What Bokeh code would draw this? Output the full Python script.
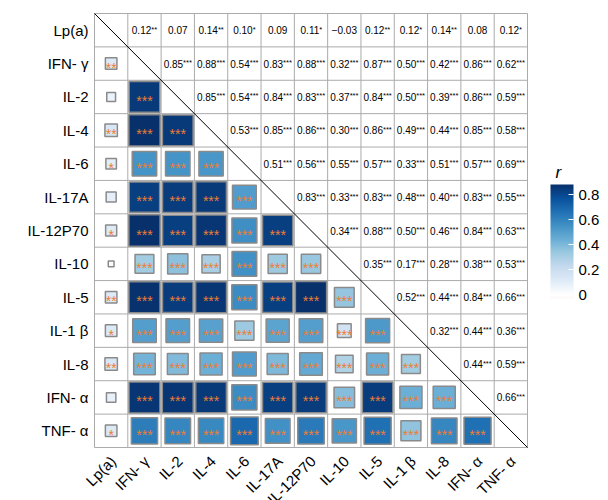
import math
import numpy as np
from bokeh.plotting import figure
from bokeh.models import (ColumnDataSource, LinearColorMapper, ColorBar, FixedTicker,
                          CustomJSTickFormatter, Range1d)
from bokeh.embed import file_html
from bokeh.resources import INLINE
from bokeh.core.properties import value

# ---------------- data ----------------
labels = ["Lp(a)", "IFN- γ", "IL-2", "IL-4", "IL-6", "IL-17A", "IL-12P70",
          "IL-10", "IL-5", "IL-1 β", "IL-8", "IFN- α", "TNF- α"]

# upper-triangle correlations, row by row (row i holds columns i+1 .. end)
r_lpa = [0.12, 0.07, 0.14, 0.10, 0.09, 0.11, -0.03, 0.12, 0.12, 0.14, 0.08, 0.12]
sig_lpa = ["**", "", "**", "*", "", "*", "", "**", "*", "**", "", "*"]
r_ifng = [0.85, 0.88, 0.54, 0.83, 0.88, 0.32, 0.87, 0.50, 0.42, 0.86, 0.62]
r_il2 = [0.85, 0.54, 0.84, 0.83, 0.37, 0.84, 0.50, 0.39, 0.86, 0.59]
r_il4 = [0.53, 0.85, 0.86, 0.30, 0.86, 0.49, 0.44, 0.85, 0.58]
r_il6 = [0.51, 0.56, 0.55, 0.57, 0.33, 0.51, 0.57, 0.69]
r_il17a = [0.83, 0.33, 0.83, 0.48, 0.40, 0.83, 0.55]
r_il12 = [0.34, 0.88, 0.50, 0.46, 0.84, 0.63]
r_il10 = [0.35, 0.17, 0.28, 0.38, 0.53]
r_il5 = [0.52, 0.44, 0.84, 0.66]
r_il1b = [0.32, 0.44, 0.36]
r_il8 = [0.44, 0.59]
r_ifna = [0.66]
sig_rest = "***"   # all cytokine-cytokine pairs p < 0.001

colorbar_ticks = [0, 0.2, 0.4, 0.6, 0.8]
r_low, r_high = -0.03, 0.88

rows_r = [r_lpa, r_ifng, r_il2, r_il4, r_il6, r_il17a, r_il12, r_il10, r_il5,
          r_il1b, r_il8, r_ifna]
rows_s = [sig_lpa] + [[sig_rest] * len(r) for r in rows_r[1:]]

n = len(labels)
R = np.zeros((n, n))
S = [[""] * n for _ in range(n)]
for i, (rr, ss) in enumerate(zip(rows_r, rows_s)):
    for k, (rv, sv) in enumerate(zip(rr, ss)):
        j = i + 1 + k
        R[i, j] = R[j, i] = rv
        S[i][j] = S[j][i] = sv

# ---------------- palette ----------------
blues = ["#ffffff", "#deebf7", "#c6dbef", "#9ecae1", "#6baed6", "#4292c6",
         "#2171b5", "#08519c", "#08306b"]
neg_end = "#e6550d"


def hex2rgb(h):
    return np.array([int(h[k:k + 2], 16) for k in (1, 3, 5)], dtype=float)


def rgb2hex(c):
    return "#%02x%02x%02x" % tuple(int(round(v)) for v in c)


def color_for(v):
    if v >= 0:
        pos = min(v / r_high, 1.0) * (len(blues) - 1)
        a = int(math.floor(pos))
        b = min(a + 1, len(blues) - 1)
        t = pos - a
        return rgb2hex(hex2rgb(blues[a]) * (1 - t) + hex2rgb(blues[b]) * t)
    t = min(-v / r_high, 1.0)
    return rgb2hex(hex2rgb("#ffffff") * (1 - t) + hex2rgb(neg_end) * t)


palette = [color_for(v) for v in np.linspace(r_low, r_high, 256)]
mapper = LinearColorMapper(palette=palette, low=r_low, high=r_high)

# ---------------- layout (pixels) ----------------
W_TOT, H_TOT = 608, 500
LEFT, TOP = 94, 13          # matrix top-left corner on the canvas
MAT_W, MAT_H = 433, 434     # matrix size
px_x, px_y = MAT_W / n, MAT_H / n
x_start, x_end = -LEFT / px_x, (W_TOT - LEFT) / px_x
y_start, y_end = -(H_TOT - TOP - MAT_H) / px_y, n + TOP / px_y

# ---------------- sources ----------------
FONT = "Liberation Sans"
num_fs, star_fs = 10, 7.5
W = {"0": 556, "1": 556, "2": 556, "3": 556, "4": 556, "5": 556, "6": 556,
     "7": 556, "8": 556, "9": 556, ".": 278, "−": 584, "*": 389}

up = dict(x=[], y=[], num=[], stars=[], off=[])
lo = dict(x=[], y=[], r=[], size=[], stars=[])
for i in range(n):
    for j in range(n):
        if i == j:
            continue
        cx, cy = j + 0.5, n - 0.5 - i
        rv, sv = R[i, j], S[i][j]
        if i < j:
            txt = ("%.2f" % rv).replace("-", "−")
            nw = sum(W[c] for c in txt) * num_fs / 1000.0
            sw = sum(W[c] for c in sv) * star_fs / 1000.0
            up["x"].append(cx); up["y"].append(cy)
            up["num"].append(txt); up["stars"].append(sv)
            up["off"].append((nw - sw) / 2.0)
        else:
            lo["x"].append(cx); lo["y"].append(cy)
            lo["r"].append(rv); lo["size"].append(math.sqrt(abs(rv)))
            lo["stars"].append(sv)

src_up = ColumnDataSource(up)
src_lo = ColumnDataSource(lo)
src_xl = ColumnDataSource(dict(x=[k + 0.5 for k in range(n)], y=[0] * n, text=labels))
src_yl = ColumnDataSource(dict(x=[0] * n, y=[n - 0.5 - k for k in range(n)], text=labels))

# ---------------- figure ----------------
p = figure(width=W_TOT, height=H_TOT, output_backend="svg", toolbar_location=None,
           x_range=Range1d(x_start, x_end), y_range=Range1d(y_start, y_end),
           x_axis_location=None, y_axis_location=None,
           min_border_left=0, min_border_right=0, min_border_top=0,
           min_border_bottom=0)
p.background_fill_color = "white"
p.border_fill_color = "white"
p.outline_line_color = None
p.grid.visible = False

# cell grid of the matrix
ks = list(range(n + 1))
p.segment(x0=ks, y0=[0] * (n + 1), x1=ks, y1=[n] * (n + 1),
          line_color="#ababab", line_width=1)
p.segment(x0=[0] * (n + 1), y0=ks, x1=[n] * (n + 1), y1=ks,
          line_color="#ababab", line_width=1)

# row labels (left) and rotated column labels (below)
p.text(x="x", y="y", text="text", source=src_yl, x_offset=-6,
       text_align="right", text_baseline="middle",
       text_font=value(FONT), text_font_size="15px", text_color="black")
p.text(x="x", y="y", text="text", source=src_xl, angle=math.pi / 4,
       text_align="right", text_baseline="top", x_offset=-4, y_offset=5,
       text_font=value(FONT), text_font_size="15px", text_color="black")

# lower triangle squares
p.rect(x="x", y="y", width="size", height="size", source=src_lo,
       fill_color={"field": "r", "transform": mapper},
       line_color="#8a8a8a", line_width=1.5)
p.text(x="x", y="y", text="stars", source=src_lo, text_align="center",
       text_baseline="middle", text_font=value(FONT), text_font_size="14px",
       text_color="#ee7d32", y_offset=4)

# upper triangle text
p.text(x="x", y="y", text="num", source=src_up, x_offset="off",
       text_align="right", text_baseline="middle", text_font=value(FONT),
       text_font_size="%dpx" % num_fs, text_color="black")
p.text(x="x", y="y", text="stars", source=src_up, x_offset="off",
       text_align="left", text_baseline="middle", text_font=value(FONT),
       text_font_size="%gpx" % star_fs, text_color="black", y_offset=-1)

# diagonal
p.line(x=[0, n], y=[n, 0], line_color="black", line_width=1)

# colour bar
cb = ColorBar(color_mapper=mapper, ticker=FixedTicker(ticks=colorbar_ticks),
              formatter=CustomJSTickFormatter(code="return tick.toFixed(1).replace(/\\.0$/, '');"),
              orientation="vertical", width=23, height=114,
              location=(550, H_TOT - 298), padding=0,
              major_label_text_font=FONT, major_label_text_font_size="15px",
              major_label_text_color="black",
              major_tick_line_color="white", major_tick_in=5, major_tick_out=0,
              bar_line_color=None, label_standoff=5,
              background_fill_color=None, border_line_color=None)
p.add_layout(cb, "center")

# colour bar title
p.text(x=[n], y=[n], text=["r"], x_offset=28, y_offset=159,
       text_align="left", text_baseline="alphabetic", text_font=value(FONT),
       text_font_style="italic", text_font_size="17px", text_color="black")

open("out.html", "w").write(file_html(p, INLINE))
